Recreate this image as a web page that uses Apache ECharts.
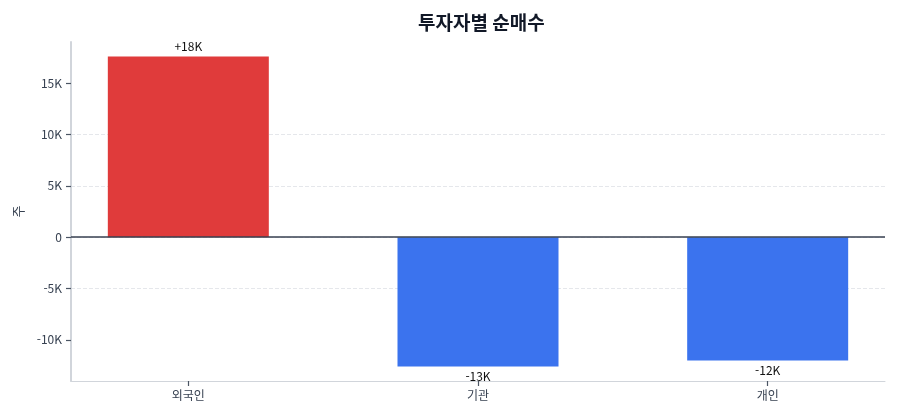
<!doctype html>
<html lang="ko">
<head>
    <meta charset="UTF-8">
    <title>투자자별 순매수</title>
    <style>
        * {
            margin: 0;
            padding: 0;
        }

        body {
            background: #ffffff;
        }

        #chart {
            width: 900px;
            height: 420px;
        }
    </style>
</head>
<body>
<div id="chart"></div>
<script src="https://cdn.jsdelivr.net/npm/echarts@6/dist/echarts.min.js"></script>
<script type="application/javascript">
    const investors = ['외국인', '기관', '개인'];
    const netBuy = [17600, -12600, -12000];
    const yTicks = [-10000, -5000, 0, 5000, 10000, 15000];
    const yMin = -14000;
    const yMax = 19000;

    const FONT = '"Noto Sans CJK KR", "Noto Sans", sans-serif';

    const fmtK = function (v) {
        if (v === 0) return '0';
        return Math.round(v / 1000) + 'K';
    };

    // bars sit on a value x-axis so the outer padding matches the picture
    const xIdx = investors.map(function (_, i) { return i; });
    const barData = netBuy.map(function (v, i) {
        return {
            value: [i, v],
            itemStyle: {color: v >= 0 ? '#e03b3b' : '#3b73ee'},
            label: {position: v >= 0 ? 'top' : 'bottom'}
        };
    });

    const chart = echarts.init(document.getElementById('chart'));
    chart.setOption({
        backgroundColor: '#ffffff',
        textStyle: {fontFamily: FONT},
        title: {
            text: '투자자별 순매수',
            left: 413,
            top: 8,
            textStyle: {
                fontFamily: FONT,
                fontSize: 19,
                fontWeight: 'bold',
                color: '#111827'
            }
        },
        grid: {
            left: 71,
            right: 15,
            top: 42,
            bottom: 39
        },
        xAxis: {
            type: 'value',
            min: -0.405,
            max: 2.405,
            axisLine: {
                onZero: false,
                lineStyle: {color: '#d1d5db', width: 1}
            },
            axisTick: {
                show: true,
                length: 5,
                customValues: xIdx,
                lineStyle: {color: '#4b5563', width: 1.2}
            },
            axisLabel: {
                color: '#374151',
                fontSize: 12,
                margin: 8,
                customValues: xIdx,
                formatter: function (v) {
                    return investors[Math.round(v)];
                },
                fontFamily: FONT
            },
            splitLine: {show: false}
        },
        yAxis: {
            type: 'value',
            min: yMin,
            max: yMax,
            name: '주',
            nameLocation: 'middle',
            nameGap: 46,
            nameTextStyle: {
                color: '#374151',
                fontSize: 13,
                fontFamily: FONT
            },
            axisLine: {
                show: true,
                onZero: false,
                lineStyle: {color: '#d1d5db', width: 2}
            },
            axisTick: {
                show: true,
                length: 5,
                customValues: yTicks,
                lineStyle: {color: '#4b5563', width: 1.2}
            },
            axisLabel: {
                color: '#374151',
                fontSize: 12,
                margin: 9,
                customValues: yTicks,
                formatter: fmtK,
                fontFamily: FONT
            },
            splitLine: {
                show: true,
                showMinLine: false,
                showMaxLine: false,
                lineStyle: {color: '#e5e7eb', type: 'dashed'}
            }
        },
        series: [
            {
                type: 'bar',
                data: barData,
                barWidth: 161,
                label: {
                    show: true,
                    color: '#111111',
                    fontSize: 12,
                    distance: 4,
                    fontFamily: FONT,
                    formatter: function (p) {
                        const v = p.value[1];
                        return (v > 0 ? '+' : '') + fmtK(v);
                    }
                },
                markLine: {
                    silent: true,
                    symbol: 'none',
                    label: {show: false},
                    lineStyle: {color: '#374151', width: 1.5, type: 'solid'},
                    data: [{yAxis: 0}]
                }
            }
        ]
    });
</script>
</body>
</html>
